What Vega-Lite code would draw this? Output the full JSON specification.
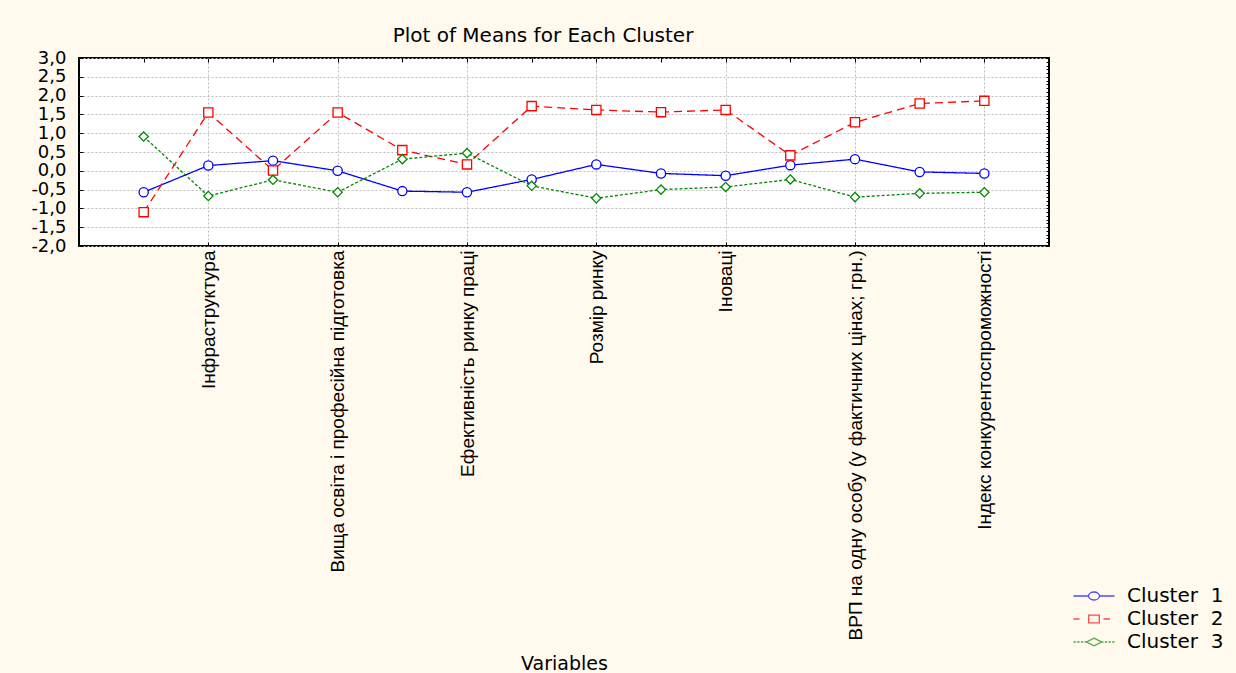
{
  "$schema": "https://vega.github.io/schema/vega-lite/v6.json",
  "width": 970,
  "height": 188,
  "autosize": {"type": "none"},
  "padding": {"left": 79, "top": 58, "right": 187, "bottom": 427},
  "background": "#FFF9EE",
  "title": {
    "text": "Plot of Means for Each Cluster",
    "font": "DejaVu Sans",
    "fontSize": 20,
    "fontWeight": "normal",
    "color": "black",
    "anchor": "middle",
    "frame": "group",
    "dx": -21,
    "offset": -13,
    "baseline": "alphabetic"
  },
  "config": {
    "view": {"fill": "white", "stroke": "black", "strokeWidth": 2},
    "font": "DejaVu Sans"
  },
  "data": {
    "values": [
      {"variable": "Інституції", "cluster": "Cluster \u00a01", "value": -0.57},
      {"variable": "Інституції", "cluster": "Cluster \u00a02", "value": -1.10},
      {"variable": "Інституції", "cluster": "Cluster \u00a03", "value": 0.91},
      {"variable": "Інфраструктура", "cluster": "Cluster \u00a01", "value": 0.14},
      {"variable": "Інфраструктура", "cluster": "Cluster \u00a02", "value": 1.55},
      {"variable": "Інфраструктура", "cluster": "Cluster \u00a03", "value": -0.67},
      {"variable": "Макроекономічне середовище", "cluster": "Cluster \u00a01", "value": 0.27},
      {"variable": "Макроекономічне середовище", "cluster": "Cluster \u00a02", "value": 0.01},
      {"variable": "Макроекономічне середовище", "cluster": "Cluster \u00a03", "value": -0.24},
      {"variable": "Вища освіта і професійна підготовка", "cluster": "Cluster \u00a01", "value": 0.0},
      {"variable": "Вища освіта і професійна підготовка", "cluster": "Cluster \u00a02", "value": 1.55},
      {"variable": "Вища освіта і професійна підготовка", "cluster": "Cluster \u00a03", "value": -0.57},
      {"variable": "Ефективність ринку товарів", "cluster": "Cluster \u00a01", "value": -0.54},
      {"variable": "Ефективність ринку товарів", "cluster": "Cluster \u00a02", "value": 0.55},
      {"variable": "Ефективність ринку товарів", "cluster": "Cluster \u00a03", "value": 0.31},
      {"variable": "Ефективність ринку праці", "cluster": "Cluster \u00a01", "value": -0.57},
      {"variable": "Ефективність ринку праці", "cluster": "Cluster \u00a02", "value": 0.17},
      {"variable": "Ефективність ринку праці", "cluster": "Cluster \u00a03", "value": 0.47},
      {"variable": "Розвиток фінансового ринку", "cluster": "Cluster \u00a01", "value": -0.23},
      {"variable": "Розвиток фінансового ринку", "cluster": "Cluster \u00a02", "value": 1.72},
      {"variable": "Розвиток фінансового ринку", "cluster": "Cluster \u00a03", "value": -0.40},
      {"variable": "Розмір ринку", "cluster": "Cluster \u00a01", "value": 0.17},
      {"variable": "Розмір ринку", "cluster": "Cluster \u00a02", "value": 1.62},
      {"variable": "Розмір ринку", "cluster": "Cluster \u00a03", "value": -0.73},
      {"variable": "Рівень розвитку бізнесу", "cluster": "Cluster \u00a01", "value": -0.07},
      {"variable": "Рівень розвитку бізнесу", "cluster": "Cluster \u00a02", "value": 1.56},
      {"variable": "Рівень розвитку бізнесу", "cluster": "Cluster \u00a03", "value": -0.50},
      {"variable": "Іноваці", "cluster": "Cluster \u00a01", "value": -0.13},
      {"variable": "Іноваці", "cluster": "Cluster \u00a02", "value": 1.62},
      {"variable": "Іноваці", "cluster": "Cluster \u00a03", "value": -0.43},
      {"variable": "Технологічна готовність", "cluster": "Cluster \u00a01", "value": 0.15},
      {"variable": "Технологічна готовність", "cluster": "Cluster \u00a02", "value": 0.41},
      {"variable": "Технологічна готовність", "cluster": "Cluster \u00a03", "value": -0.23},
      {"variable": "ВРП на одну особу (у фактичних цінах; грн.)", "cluster": "Cluster \u00a01", "value": 0.31},
      {"variable": "ВРП на одну особу (у фактичних цінах; грн.)", "cluster": "Cluster \u00a02", "value": 1.29},
      {"variable": "ВРП на одну особу (у фактичних цінах; грн.)", "cluster": "Cluster \u00a03", "value": -0.70},
      {"variable": "Охорона здоров'я та початкова освіта", "cluster": "Cluster \u00a01", "value": -0.03},
      {"variable": "Охорона здоров'я та початкова освіта", "cluster": "Cluster \u00a02", "value": 1.79},
      {"variable": "Охорона здоров'я та початкова освіта", "cluster": "Cluster \u00a03", "value": -0.60},
      {"variable": "Індекс конкурентоспроможності", "cluster": "Cluster \u00a01", "value": -0.07},
      {"variable": "Індекс конкурентоспроможності", "cluster": "Cluster \u00a02", "value": 1.86},
      {"variable": "Індекс конкурентоспроможності", "cluster": "Cluster \u00a03", "value": -0.57}
    ]
  },
  "layer": [
    {
      "mark": {"type": "line", "strokeWidth": 1.3},
      "encoding": {
        "x": {
          "field": "variable", "type": "nominal", "sort": null,
          "scale": {"type": "point", "padding": 1},
          "axis": {
            "orient": "bottom",
            "values": ["Інфраструктура", "Вища освіта і професійна підготовка", "Ефективність ринку праці", "Розмір ринку", "Іноваці", "ВРП на одну особу (у фактичних цінах; грн.)", "Індекс конкурентоспроможності"],
            "labelAngle": -90,
            "labelFont": "Liberation Sans",
            "labelFontSize": 19,
            "labelColor": "black",
            "labelLimit": 700,
            "labelPadding": 8,
            "tickSize": -4,
            "tickColor": "black",
            "domain": false,
            "grid": true,
            "gridColor": "#BDBDBD",
            "gridDash": [2, 2],
            "title": "Variables",
            "titleFont": "DejaVu Sans",
            "titleFontSize": 19,
            "titleFontWeight": "normal",
            "titleColor": "black",
            "titleBaseline": "alphabetic",
            "titleY": 423
          }
        },
        "y": {
          "field": "value", "type": "quantitative",
          "scale": {"domain": [-2, 3], "nice": false, "zero": false},
          "axis": {
            "orient": "left",
            "values": [-2, -1.5, -1, -0.5, 0, 0.5, 1, 1.5, 2, 2.5, 3],
            "labelExpr": "replace(replace(format(datum.value, '.1f'), '.', ','), '\u2212', '-')",
            "labelFont": "DejaVu Sans",
            "labelFontSize": 18,
            "labelColor": "black",
            "labelOverlap": false,
            "labelFlush": false,
            "labelBound": false,
            "labelPadding": 17,
            "tickSize": -4,
            "tickColor": "black",
            "domain": false,
            "grid": true,
            "gridColor": "#BDBDBD",
            "gridDash": [2, 2],
            "title": null
          }
        },
        "color": {
          "field": "cluster", "type": "nominal",
          "scale": {"domain": ["Cluster \u00a01", "Cluster \u00a02", "Cluster \u00a03"], "range": ["#0000FF", "#FF0000", "#008800"]},
          "legend": null
        },
        "strokeDash": {
          "field": "cluster", "type": "nominal",
          "scale": {"domain": ["Cluster \u00a01", "Cluster \u00a02", "Cluster \u00a03"], "range": [[1, 0], [8, 5], [3, 2]]},
          "legend": null
        }
      }
    },
    {
      "mark": {"type": "point", "filled": false, "fill": "white", "size": 85, "strokeWidth": 1.3, "opacity": 1},
      "encoding": {
        "x": {"field": "variable", "type": "nominal", "sort": null, "axis": null},
        "y": {"field": "value", "type": "quantitative", "axis": null},
        "color": {
          "field": "cluster", "type": "nominal",
          "scale": {"domain": ["Cluster \u00a01", "Cluster \u00a02", "Cluster \u00a03"], "range": ["#0000FF", "#FF0000", "#008800"]},
          "legend": null
        },
        "shape": {
          "field": "cluster", "type": "nominal",
          "scale": {"domain": ["Cluster \u00a01", "Cluster \u00a02", "Cluster \u00a03"], "range": ["circle", "square", "diamond"]},
          "legend": null
        }
      }
    },
    {
      "transform": [{"filter": "datum.value > 99"}],
      "mark": {"type": "point", "filled": false, "strokeWidth": 1.3},
      "encoding": {
        "x": {
          "field": "variable", "type": "nominal", "sort": null,
          "axis": {"orient": "top", "labels": false, "title": null, "grid": false, "domain": false, "tickSize": -4, "tickColor": "black"}
        },
        "y": {
          "field": "value", "type": "quantitative",
          "axis": {
            "orient": "right", "labels": false, "title": null, "grid": false, "domain": false,
            "tickSize": -3, "tickColor": "black",
            "values": [-2, -1.9, -1.8, -1.7, -1.6, -1.5, -1.4, -1.3, -1.2, -1.1, -1, -0.9, -0.8, -0.7, -0.6, -0.5, -0.4, -0.3, -0.2, -0.1, 0, 0.1, 0.2, 0.3, 0.4, 0.5, 0.6, 0.7, 0.8, 0.9, 1, 1.1, 1.2, 1.3, 1.4, 1.5, 1.6, 1.7, 1.8, 1.9, 2, 2.1, 2.2, 2.3, 2.4, 2.5, 2.6, 2.7, 2.8, 2.9, 3]
          }
        },
        "color": {
          "field": "cluster", "type": "nominal",
          "scale": {"domain": ["Cluster \u00a01", "Cluster \u00a02", "Cluster \u00a03"], "range": ["#0000FF", "#FF0000", "#008800"]},
          "legend": {
            "orient": "none", "legendX": 1004, "legendY": 527, "title": null, "padding": 0,
            "labelFont": "DejaVu Sans", "labelFontSize": 20, "labelColor": "black", "labelLimit": 200,
            "symbolSize": 400, "symbolStrokeWidth": 1.3, "labelOffset": 22, "rowPadding": 2
          }
        },
        "shape": {
          "field": "cluster", "type": "nominal",
          "scale": {
            "domain": ["Cluster \u00a01", "Cluster \u00a02", "Cluster \u00a03"],
            "range": [
              "M-2.05,0H-0.55M0.55,0H2.05M-0.55,0A0.55,0.4,0,1,1,0.55,0A0.55,0.4,0,1,1,-0.55,0",
              "M-2.05,0H-1.45M0.95,0H1.6M-0.53,-0.38H0.53V0.38H-0.53Z",
              "M-2.05,0H-1.82M-1.68,0H-1.45M-1.31,0H-1.08M-0.94,0H-0.75M0.75,0H0.94M1.08,0H1.31M1.45,0H1.68M1.82,0H2.05M0,-0.38L0.75,0L0,0.38L-0.75,0Z"
            ]
          },
          "legend": {
            "orient": "none", "legendX": 1004, "legendY": 527, "title": null, "padding": 0,
            "labelFont": "DejaVu Sans", "labelFontSize": 20, "labelColor": "black", "labelLimit": 200,
            "symbolSize": 400, "symbolStrokeWidth": 1.3, "labelOffset": 22, "rowPadding": 2
          }
        }
      }
    }
  ],
  "resolve": {
    "scale": {"shape": "independent", "color": "independent", "strokeDash": "independent"},
    "axis": {"x": "independent", "y": "independent"}
  }
}
